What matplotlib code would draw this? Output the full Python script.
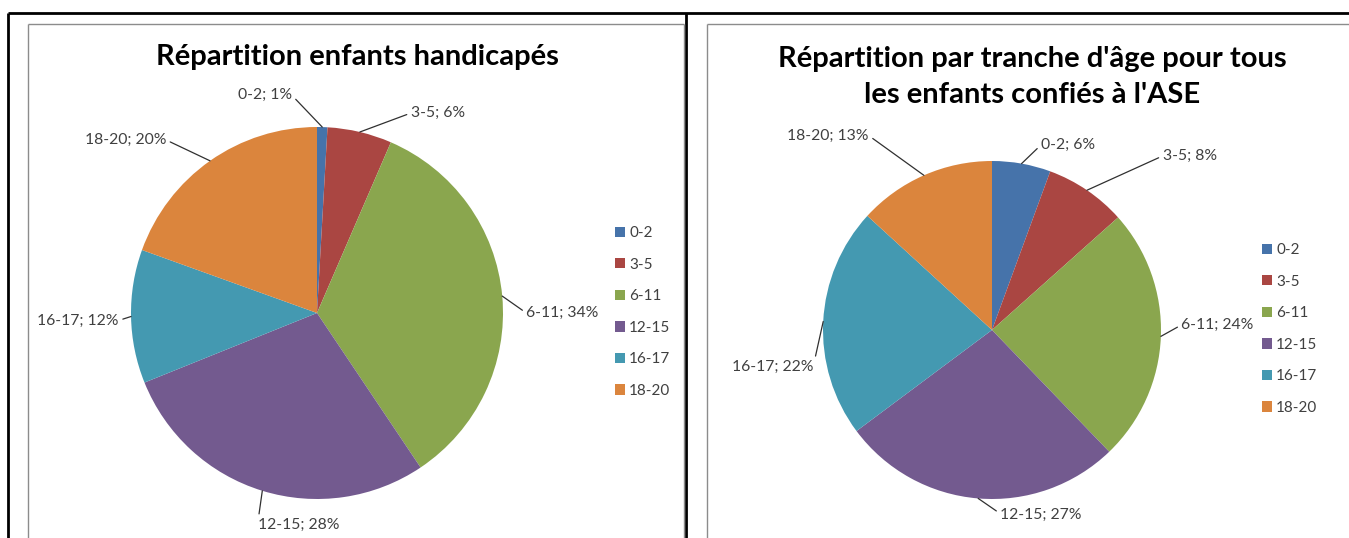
import matplotlib.pyplot as plt
import numpy as np
from matplotlib.lines import Line2D

plt.rcParams['font.family'] = ['Lato', 'DejaVu Sans']

# data
tranches = ['0-2', '3-5', '6-11', '12-15', '16-17', '18-20']
handicapes = [0.9, 5.6, 34.1, 28.3, 11.6, 19.5]
tous_ase = [5.6, 7.8, 24.4, 27.0, 22.0, 13.2]
titre_gauche = 'Répartition enfants handicapés'
titre_droite = "Répartition par tranche d'âge pour tous\nles enfants confiés à l'ASE"

colors = ['#4673AA', '#AA4642', '#8AA64E', '#735A8F', '#4499B1', '#DB853D']
label_color = '#404040'

W, H = 1349, 538
fig = plt.figure(figsize=(W / 100, H / 100), dpi=100)


def px_axes(cx, cy, r):
    # axes box in pixels (top-left origin) -> figure fraction
    return fig.add_axes([(cx - r) / W, (H - cy - r) / H, 2 * r / W, 2 * r / H])


# label positions in pie units (radius = 1), layout only
left_lab = [(-0.28, 1.17), (0.65, 1.075), (1.32, 0.0),
            (-0.10, -1.14), (-1.285, -0.04), (-1.03, 0.93)]
right_lab = [(0.45, 1.095), (1.17, 1.03), (1.335, 0.03),
             (0.29, -1.095), (-1.30, -0.22), (-0.97, 1.15)]


def draw_pie(ax, values, lab_pos):
    wedges, _ = ax.pie(values, colors=colors, startangle=90, counterclock=False,
                       radius=1, wedgeprops=dict(linewidth=0))
    ax.set_xlim(-1, 1)
    ax.set_ylim(-1, 1)
    ax.axis('off')
    total = sum(values)
    cum = 0
    for i, v in enumerate(values):
        mid = np.deg2rad((cum + v / 2) / total * 360)
        cum += v
        ex, ey = np.sin(mid), np.cos(mid)
        tx, ty = lab_pos[i]
        if ty < -1.05:
            rel = (0.0, 0.6)
        elif tx < ex:
            rel = (1.0, 0.5)
        else:
            rel = (0.0, 0.5)
        txt = '%s; %.0f%%' % (tranches[i], v)
        ax.annotate(txt, xy=(ex, ey), xytext=(tx, ty), textcoords='data',
                    ha='center', va='center', fontsize=11.3, color=label_color,
                    annotation_clip=False,
                    arrowprops=dict(arrowstyle='-', color='#303030', lw=0.9,
                                    shrinkA=1, shrinkB=0, relpos=rel))
    return wedges


axL = px_axes(317, 313, 186)
wL = draw_pie(axL, handicapes, left_lab)
axR = px_axes(992, 330, 169)
wR = draw_pie(axR, tous_ase, right_lab)

fig.text(357 / W, 1 - 57 / H, titre_gauche, ha='center', va='center',
         fontsize=21, fontweight='bold', color='black')
fig.text(1032 / W, 1 - 77 / H, titre_droite, ha='center', va='center',
         fontsize=21, fontweight='bold', color='black', linespacing=1.5)

for wedges, x, y in [(wL, 607, 312), (wR, 1254, 329)]:
    fig.legend(wedges, tranches, loc='center left',
               bbox_to_anchor=(x / W, 1 - y / H), frameon=False,
               fontsize=11, handlelength=0.65, handleheight=0.65,
               handletextpad=0.3, labelspacing=1.15, borderpad=0,
               labelcolor=label_color)

# chart frames
def fline(x0, y0, x1, y1, color, lw):
    fig.add_artist(Line2D([x0 / W, x1 / W], [1 - y0 / H, 1 - y1 / H],
                          color=color, lw=lw, solid_capstyle='butt'))

fline(8, 13, W, 13, 'black', 2)
fline(8, 13, 8, H, 'black', 2)
fline(686, 13, 686, H, 'black', 2)
fline(28, 23.5, 684, 23.5, '#8c8c8c', 1)
fline(28, 23.5, 28, H, '#8c8c8c', 1)
fline(684, 23.5, 684, H, '#8c8c8c', 1)
fline(707, 23.5, W, 23.5, '#8c8c8c', 1)
fline(707, 23.5, 707, H, '#8c8c8c', 1)

fig.savefig('out.png', dpi=100)
